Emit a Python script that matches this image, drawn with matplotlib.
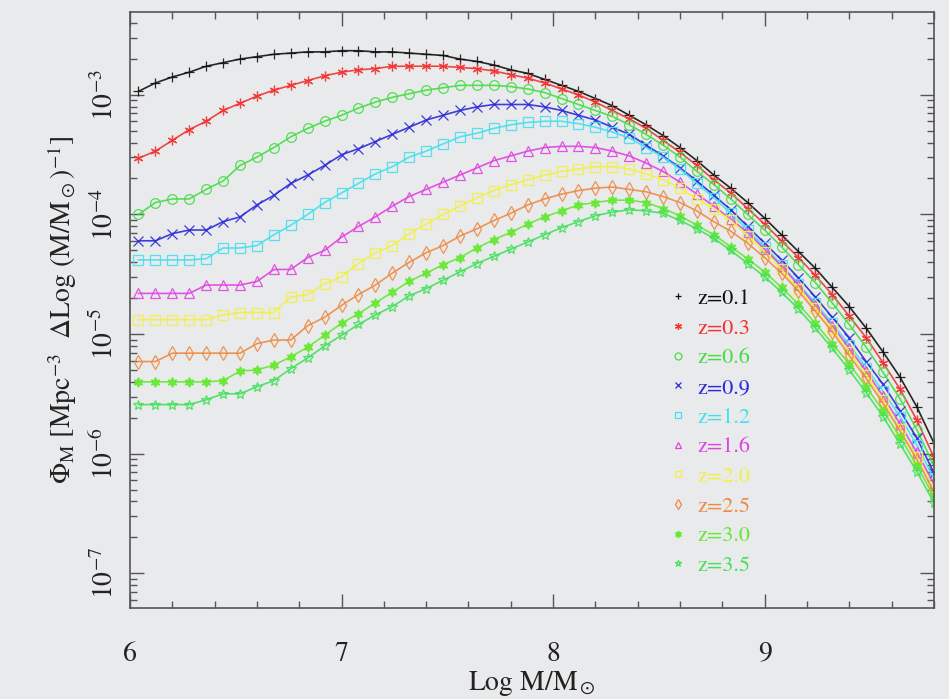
import numpy as np
import matplotlib
matplotlib.use("Agg")
import matplotlib.pyplot as plt
from matplotlib.lines import Line2D
from matplotlib.ticker import LogLocator, MultipleLocator, FixedLocator

plt.rcParams['font.family'] = 'STIXGeneral'
plt.rcParams['mathtext.fontset'] = 'stix'

# mass bins (Log M/Msun)
log_mass = [6.04, 6.12, 6.20, 6.28, 6.36, 6.44, 6.52, 6.60, 6.68, 6.76,
            6.84, 6.92, 7.00, 7.08, 7.16, 7.24, 7.32, 7.40, 7.48, 7.56,
            7.64, 7.72, 7.80, 7.88, 7.96, 8.04, 8.12, 8.20, 8.28, 8.36,
            8.44, 8.52, 8.60, 8.68, 8.76, 8.84, 8.92, 9.00, 9.08, 9.16,
            9.24, 9.32, 9.40, 9.48, 9.56, 9.64, 9.72, 9.80]

# log10 of the mass function
phi_z01 = [-2.97, -2.90, -2.85, -2.81, -2.76, -2.73, -2.70, -2.68, -2.66, -2.65,
           -2.64, -2.64, -2.63, -2.63, -2.64, -2.64, -2.65, -2.66, -2.67, -2.70,
           -2.72, -2.75, -2.79, -2.82, -2.87, -2.92, -2.97, -3.03, -3.09, -3.17,
           -3.25, -3.34, -3.44, -3.55, -3.67, -3.78, -3.90, -4.03, -4.17, -4.31,
           -4.45, -4.61, -4.77, -4.95, -5.15, -5.36, -5.61, -5.91]
phi_z03 = [-3.53, -3.47, -3.38, -3.29, -3.22, -3.13, -3.07, -3.01, -2.96, -2.92,
           -2.88, -2.84, -2.81, -2.79, -2.78, -2.76, -2.76, -2.76, -2.76, -2.77,
           -2.78, -2.80, -2.83, -2.86, -2.90, -2.95, -3.00, -3.06, -3.13, -3.20,
           -3.28, -3.38, -3.48, -3.59, -3.71, -3.82, -3.95, -4.08, -4.22, -4.36,
           -4.51, -4.67, -4.85, -5.03, -5.24, -5.46, -5.72, -6.03]
phi_z06 = [-4.00, -3.90, -3.87, -3.87, -3.79, -3.72, -3.59, -3.52, -3.44, -3.35,
           -3.28, -3.22, -3.17, -3.11, -3.06, -3.02, -2.99, -2.96, -2.94, -2.92,
           -2.92, -2.92, -2.93, -2.95, -2.98, -3.03, -3.08, -3.13, -3.18, -3.25,
           -3.33, -3.42, -3.52, -3.64, -3.75, -3.87, -4.00, -4.13, -4.27, -4.42,
           -4.57, -4.74, -4.92, -5.11, -5.32, -5.54, -5.80, -6.10]
phi_z09 = [-4.22, -4.22, -4.16, -4.13, -4.13, -4.06, -4.02, -3.92, -3.84, -3.74,
           -3.67, -3.59, -3.50, -3.45, -3.39, -3.33, -3.27, -3.21, -3.17, -3.13,
           -3.10, -3.08, -3.08, -3.08, -3.10, -3.13, -3.17, -3.21, -3.27, -3.33,
           -3.42, -3.51, -3.61, -3.72, -3.84, -3.96, -4.10, -4.24, -4.38, -4.53,
           -4.69, -4.86, -5.03, -5.23, -5.42, -5.64, -5.87, -6.16]
phi_z12 = [-4.38, -4.38, -4.38, -4.38, -4.37, -4.28, -4.28, -4.26, -4.17, -4.09,
           -4.00, -3.90, -3.82, -3.74, -3.66, -3.60, -3.52, -3.47, -3.41, -3.35,
           -3.32, -3.28, -3.25, -3.23, -3.22, -3.22, -3.24, -3.27, -3.31, -3.36,
           -3.44, -3.52, -3.62, -3.74, -3.86, -3.99, -4.13, -4.27, -4.42, -4.58,
           -4.74, -4.91, -5.09, -5.28, -5.48, -5.69, -5.93, -6.21]
phi_z16 = [-4.66, -4.66, -4.66, -4.66, -4.59, -4.59, -4.59, -4.56, -4.46, -4.46,
           -4.36, -4.30, -4.19, -4.10, -4.02, -3.93, -3.85, -3.79, -3.73, -3.67,
           -3.61, -3.55, -3.51, -3.47, -3.44, -3.43, -3.43, -3.44, -3.47, -3.51,
           -3.57, -3.64, -3.73, -3.83, -3.93, -4.04, -4.15, -4.29, -4.43, -4.59,
           -4.76, -4.93, -5.12, -5.31, -5.52, -5.75, -5.99, -6.25]
phi_z20 = [-4.88, -4.88, -4.88, -4.88, -4.88, -4.84, -4.82, -4.82, -4.82, -4.69,
           -4.67, -4.58, -4.52, -4.41, -4.32, -4.26, -4.16, -4.08, -4.00, -3.93,
           -3.86, -3.80, -3.75, -3.71, -3.67, -3.64, -3.62, -3.60, -3.60, -3.62,
           -3.66, -3.71, -3.78, -3.87, -3.95, -4.05, -4.18, -4.31, -4.46, -4.62,
           -4.78, -4.96, -5.15, -5.34, -5.55, -5.79, -6.03, -6.29]
phi_z25 = [-5.23, -5.23, -5.16, -5.16, -5.16, -5.16, -5.16, -5.08, -5.05, -5.05,
           -4.93, -4.86, -4.76, -4.67, -4.59, -4.49, -4.40, -4.32, -4.26, -4.18,
           -4.12, -4.05, -3.99, -3.92, -3.87, -3.83, -3.80, -3.78, -3.77, -3.79,
           -3.81, -3.85, -3.90, -3.97, -4.06, -4.14, -4.24, -4.36, -4.49, -4.64,
           -4.81, -4.98, -5.18, -5.37, -5.58, -5.81, -6.05, -6.32]
phi_z30 = [-5.40, -5.40, -5.40, -5.40, -5.40, -5.39, -5.31, -5.30, -5.26, -5.19,
           -5.11, -5.01, -4.91, -4.83, -4.74, -4.65, -4.56, -4.49, -4.42, -4.36,
           -4.28, -4.21, -4.15, -4.08, -4.02, -3.97, -3.92, -3.90, -3.88, -3.88,
           -3.90, -3.95, -4.01, -4.09, -4.17, -4.27, -4.37, -4.48, -4.61, -4.75,
           -4.91, -5.08, -5.25, -5.44, -5.64, -5.86, -6.10, -6.36]
phi_z35 = [-5.59, -5.59, -5.59, -5.59, -5.55, -5.50, -5.50, -5.44, -5.39, -5.29,
           -5.20, -5.10, -5.01, -4.92, -4.84, -4.77, -4.68, -4.62, -4.55, -4.48,
           -4.41, -4.35, -4.29, -4.23, -4.17, -4.11, -4.06, -4.01, -3.98, -3.96,
           -3.97, -3.99, -4.05, -4.12, -4.20, -4.30, -4.41, -4.52, -4.65, -4.79,
           -4.95, -5.12, -5.30, -5.49, -5.69, -5.92, -6.15, -6.41]

labels = ['z=0.1', 'z=0.3', 'z=0.6', 'z=0.9', 'z=1.2',
          'z=1.6', 'z=2.0', 'z=2.5', 'z=3.0', 'z=3.5']
series = [phi_z01, phi_z03, phi_z06, phi_z09, phi_z12,
          phi_z16, phi_z20, phi_z25, phi_z30, phi_z35]
colors = ['#111111', '#f03333', '#44dd44', '#2a2ad8', '#44e0ee',
          '#e044e0', '#f2f044', '#ee8a44', '#66e833', '#44e05a']
markers = ['+', (6, 2, 0), 'o', 'x', 's', '^', 's', 'd', (6, 1, 0), '*']
filled = [True, True, False, True, False, False, False, False, True, False]

bg = '#e9eaec'
fig = plt.figure(figsize=(9.49, 6.99), dpi=100, facecolor=bg)
ax = fig.add_axes([0.137, 0.130, 0.847, 0.853])
ax.set_facecolor(bg)

handles = []
for vals, lab, col, mk, fl in zip(series, labels, colors, markers, filled):
    ax.plot(log_mass, 10 ** np.array(vals), color=col, lw=1.2,
            marker=mk, ms=7, mew=0.9,
            mfc=col if fl else 'none', mec=col, alpha=0.9)
    handles.append(Line2D([], [], ls='none', color=col, marker=mk, ms=5,
                          mew=0.9, mfc=col if fl else 'none', mec=col,
                          label=lab))

ax.set_yscale('log')
ax.set_xlim(6, 9.8)
ax.set_ylim(5.1e-8, 4.95e-3)

ax.xaxis.set_major_locator(FixedLocator([6, 7, 8, 9]))
ax.xaxis.set_minor_locator(MultipleLocator(0.2))
ax.yaxis.set_major_locator(LogLocator(base=10, numticks=20))
ax.yaxis.set_minor_locator(LogLocator(base=10, subs=np.arange(2, 10), numticks=20))

for s in ax.spines.values():
    s.set_color('#555555')
    s.set_linewidth(1.2)
ax.tick_params(which='both', direction='in', top=True, right=True,
               color='#555555', width=1.0)
ax.tick_params(which='major', length=10)
ax.tick_params(which='minor', length=5)
ax.tick_params(axis='x', which='major', labelsize=20, pad=24, labelcolor='#222222')
ax.tick_params(axis='y', which='major', labelsize=20, pad=8, labelcolor='#222222',
               labelrotation=90)
for t in ax.get_yticklabels():
    t.set_va('center')

ax.set_xlabel(r'Log M/M$_\odot$', fontsize=20, color='#222222', labelpad=1.5)
ax.set_ylabel(r'$\Phi_{\rm M}$ [Mpc$^{-3}$  $\Delta$Log (M/M$_\odot$)$^{-1}$]',
              fontsize=20, color='#222222', labelpad=8)

leg = ax.legend(handles=handles, loc='upper left',
                bbox_to_anchor=(0.674, 0.536), frameon=False,
                fontsize=16, labelcolor='linecolor', handlelength=0.6,
                handletextpad=0.55, labelspacing=0.41,
                borderpad=0, borderaxespad=0)

fig.savefig('out.png', dpi=100, facecolor=bg)
